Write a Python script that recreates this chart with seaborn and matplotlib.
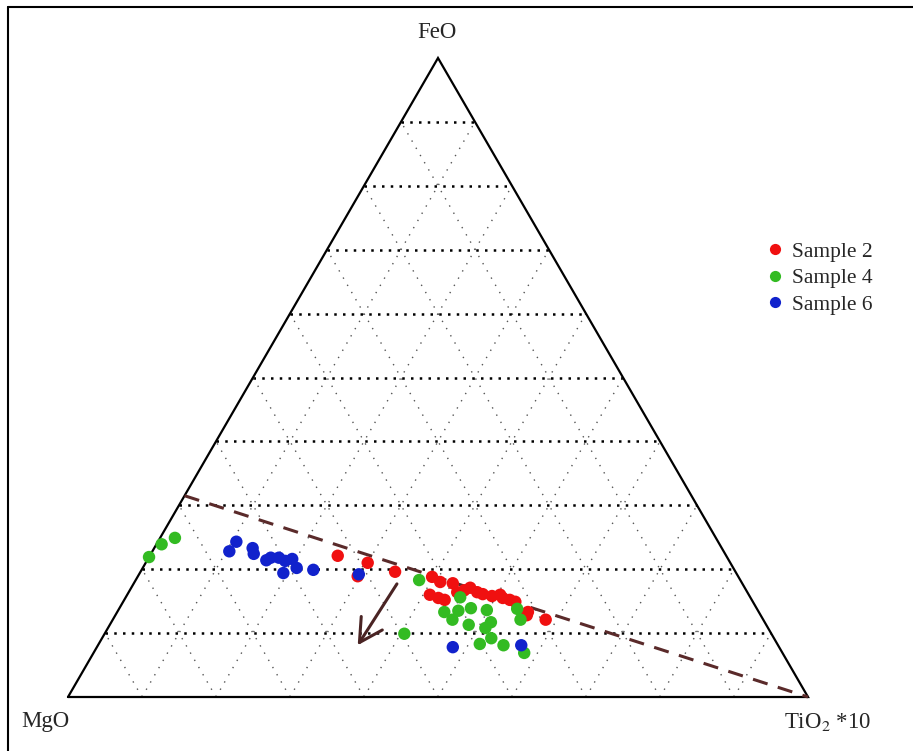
import numpy as np
import pandas as pd
import matplotlib
matplotlib.use('Agg')
import matplotlib.pyplot as plt
import seaborn as sns

# ternary compositions (FeO %, TiO2*10 %), MgO is the remainder
s2_feo = [22.1, 21.0, 18.9, 19.6, 18.8, 18.0, 17.8, 16.4, 16.0, 15.5, 15.2, 17.1,
          16.4, 16.1, 15.8, 16.0, 15.5, 15.2, 14.9, 13.3, 12.8, 12.1, 16.7]
s2_tio2 = [25.4, 30.0, 29.7, 34.4, 39.8, 41.3, 43.1, 44.4, 40.9, 42.3, 43.3, 45.8,
           47.1, 48.0, 49.4, 50.4, 51.0, 52.1, 53.0, 55.5, 55.6, 58.5, 45.2]

s4_feo = [21.9, 23.9, 24.9, 18.3, 15.6, 13.3, 13.5, 13.9, 13.6, 13.8, 12.1, 11.3,
          11.7, 10.8, 12.1, 9.9, 9.2, 8.3, 8.1, 6.9]
s4_tio2 = [0.0, 0.7, 2.0, 38.3, 45.2, 44.2, 46.0, 47.5, 49.8, 53.8, 45.9, 48.5,
           51.3, 51.0, 55.1, 40.5, 52.6, 51.5, 54.8, 58.2]

s6_feo = [24.3, 22.8, 23.3, 22.4, 21.4, 21.8, 21.8, 21.3, 21.6, 19.4, 20.2, 19.9,
          19.2, 7.8, 8.1]
s6_tio2 = [10.6, 10.4, 13.3, 13.9, 16.1, 16.5, 17.6, 18.7, 19.5, 19.4, 20.8, 23.2,
           29.7, 48.1, 57.2]

samples = ['Sample 2', 'Sample 4', 'Sample 6']
colors = ['#f01010', '#33bb22', '#1122cc']

# trend line: from FeO 31.5 on the MgO-FeO edge to the TiO2 corner
trend_feo = [31.5, 0.0]
trend_tio2 = [0.0, 100.0]
# arrow (start -> end)
arrow_feo = [17.7, 8.1]
arrow_tio2 = [35.6, 35.1]

H = np.sqrt(3) / 2


def to_xy(feo, tio2):
    f = np.asarray(feo, dtype=float) / 100
    t = np.asarray(tio2, dtype=float) / 100
    return t + f / 2, f * H


rows = []
for name, feo, tio2 in [(samples[0], s2_feo, s2_tio2),
                        (samples[1], s4_feo, s4_tio2),
                        (samples[2], s6_feo, s6_tio2)]:
    x, y = to_xy(feo, tio2)
    rows.append(pd.DataFrame({'x': x, 'y': y, 'sample': name}))
df = pd.concat(rows, ignore_index=True)

sns.set_style('white')
plt.rcParams['font.family'] = ['Liberation Serif', 'DejaVu Serif']
plt.rcParams['mathtext.fontset'] = 'stix'

W, Hpx = 913, 751
fig = plt.figure(figsize=(W / 100, Hpx / 100), dpi=100)
ax = fig.add_axes([0, 0, 1, 1])
# pixel layout: MgO corner at (68, 697), TiO2 corner at (808, 697), FeO at (435, 58)
x0, x1, yb, yt = 68, 808, 697, 58
sx = (x1 - x0)
sy = (yb - yt) / H
ax.set_xlim(-x0 / sx, (W - x0) / sx)
ax.set_ylim(-(Hpx - yb) / sy, yb / sy)
ax.axis('off')

# grid
for k in range(1, 10):
    g = k / 10
    # constant FeO (horizontal), heavy dots
    xa, ya = to_xy([g * 100, g * 100], [0, (1 - g) * 100])
    ax.plot(xa, ya, color='black', lw=1.8, linestyle=(0, (1, 2.5)), zorder=1)
    # constant TiO2
    xa, ya = to_xy([0, (1 - g) * 100], [g * 100, g * 100])
    ax.plot(xa, ya, color='#555555', lw=1.0, linestyle=(0, (1, 5)), zorder=1)
    # constant MgO
    xa, ya = to_xy([0, (1 - g) * 100], [(1 - g) * 100, 0])
    ax.plot(xa, ya, color='#555555', lw=1.0, linestyle=(0, (1, 5)), zorder=1)

# triangle outline
ax.plot([0, 1, 0.5, 0], [0, 0, H, 0], color='black', lw=1.6, zorder=2,
        solid_joinstyle='miter')

# trend line and arrow
tx, ty = to_xy(trend_feo, trend_tio2)
ax.plot(tx, ty, color='#5a2a2a', lw=2.2, linestyle=(0, (5, 3.5)), zorder=3)
axx, axy = to_xy(arrow_feo, arrow_tio2)
ax.annotate('', xy=(axx[1], axy[1]), xytext=(axx[0], axy[0]),
            arrowprops=dict(arrowstyle='->,head_length=0.55,head_width=0.3',
                            color='#4a2424', lw=2.2,
                            mutation_scale=30, shrinkA=0, shrinkB=0), zorder=3)

sns.scatterplot(data=df, x='x', y='y', hue='sample', hue_order=samples,
                palette=colors, s=80, edgecolor='none', linewidth=0,
                ax=ax, zorder=4, clip_on=False)

ax.legend(loc='upper left', bbox_to_anchor=(753 / W, 1 - 231 / Hpx),
          bbox_transform=fig.transFigure, frameon=False, fontsize=15.5,
          handlelength=1.0, handletextpad=0.3, labelspacing=0.3,
          borderpad=0, markerscale=0.9)

# vertex labels
fig.text(437 / W, 1 - 33 / Hpx, 'FeO', ha='center', va='center', fontsize=16.5)
fig.text(45 / W, 1 - 722 / Hpx, 'MgO', ha='center', va='center', fontsize=16.5)
fig.text(828 / W, 1 - 722 / Hpx, 'TiO$_2$ *10', ha='center', va='center', fontsize=16.5)

# outer frame (left and top edges visible)
fig.add_artist(plt.Line2D([8 / W, 8 / W], [0, 1 - 7 / Hpx], color='black', lw=1.5,
                          transform=fig.transFigure))
fig.add_artist(plt.Line2D([8 / W, 1], [1 - 7 / Hpx, 1 - 7 / Hpx], color='black', lw=1.5,
                          transform=fig.transFigure))

fig.savefig('out.png', dpi=100)
